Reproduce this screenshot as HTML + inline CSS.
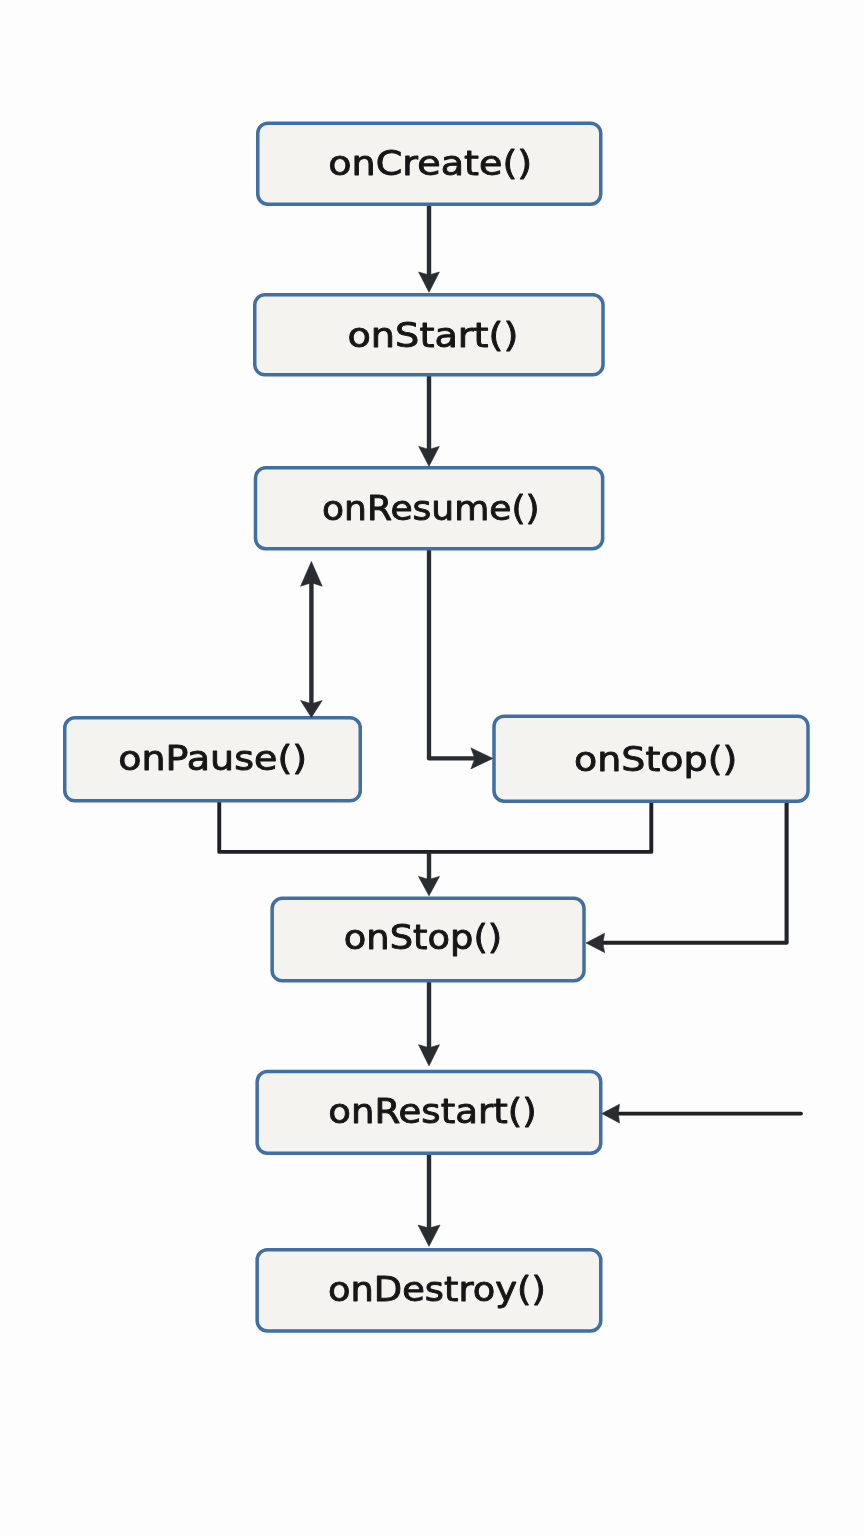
<!DOCTYPE html>
<html lang="en">
<head>
<meta charset="utf-8">
<title>Activity Lifecycle</title>
<style>
html,body{margin:0;padding:0;background:#fdfdfd;}
body{width:864px;height:1536px;overflow:hidden;position:relative;}
svg{position:absolute;left:0;top:0;display:block;will-change:transform;}
.box{fill:#f4f3f0;stroke:#3f6fa3;stroke-width:3.5;}
.ln{fill:none;stroke:#292c30;stroke-width:4.2;stroke-linejoin:round;stroke-linecap:butt;}
.ah{fill:#292c30;stroke:#292c30;stroke-width:0.6;stroke-linejoin:round;}
#labels{opacity:0.999;}
text{font-family:"DejaVu Sans","Liberation Sans",sans-serif;fill:#161616;stroke:#161616;stroke-width:0.9px;stroke-linejoin:round;}
</style>
</head>
<body>
<svg width="864" height="1536" viewBox="0 0 864 1536">
  <rect x="0" y="0" width="864" height="1536" fill="#fdfdfd"/>
  <g id="lines">
    <path class="ln" d="M429 204V278" style="stroke-width:4.4"/>
    <path class="ln" d="M429 375V452" style="stroke-width:4.4"/>
    <path class="ln" d="M311.4 580V706" style="stroke-width:4.4"/>
    <path class="ln" d="M429 549V758.4H478" style="stroke-width:4.3"/>
    <path class="ln" d="M219.25 801V851.9H651.3V801" style="stroke-width:3.9;stroke:#1f2124"/>
    <path class="ln" d="M429 852V882" style="stroke-width:4.4"/>
    <path class="ln" d="M786.6 801V942.8H600" style="stroke-width:4.1;stroke:#222428"/>
    <path class="ln" d="M429 981V1050" style="stroke-width:4.4"/>
    <path class="ln" d="M429 1153V1231" style="stroke-width:4.4"/>
    <path class="ln" d="M801 1113.6H616" style="stroke-width:3.8;stroke:#1f2124;stroke-linecap:round"/>
  </g>
  <g id="boxes">
    <rect class="box" x="257.75" y="123.15" width="343.00" height="81.10" rx="10.2"/>
    <rect class="box" x="254.75" y="294.75" width="348.25" height="80.10" rx="10.2"/>
    <rect class="box" x="255.50" y="467.75" width="347.15" height="80.90" rx="10.2"/>
    <rect class="box" x="64.75" y="717.75" width="295.50" height="83.10" rx="10.2"/>
    <rect class="box" x="494.00" y="716.15" width="314.00" height="85.10" rx="10.2"/>
    <rect class="box" x="272.15" y="898.35" width="311.85" height="82.50" rx="10.2"/>
    <rect class="box" x="257.15" y="1071.50" width="343.60" height="81.75" rx="10.2"/>
    <rect class="box" x="257.15" y="1249.75" width="343.60" height="81.25" rx="10.2"/>
  </g>
  <g id="heads">
    <path class="ah" d="M429.00 292.30 L439.40 272.00 L429.00 275.00 L418.60 272.00 Z"/>
    <path class="ah" d="M429.00 466.30 L439.30 446.40 L429.00 449.40 L418.70 446.40 Z"/>
    <path class="ah" d="M311.40 561.50 L300.60 586.20 L311.40 582.70 L322.20 586.20 Z"/>
    <path class="ah" d="M311.40 717.50 L322.20 700.50 L311.40 703.80 L300.60 700.50 Z"/>
    <path class="ah" d="M492.90 758.40 L470.90 747.90 L474.90 758.40 L470.90 768.90 Z"/>
    <path class="ah" d="M429.00 895.80 L439.50 876.40 L429.00 879.40 L418.50 876.40 Z"/>
    <path class="ah" d="M586.00 942.90 L604.60 952.60 L602.80 942.90 L604.60 933.20 Z"/>
    <path class="ah" d="M429.00 1065.90 L439.50 1044.70 L429.00 1047.70 L418.50 1044.70 Z"/>
    <path class="ah" d="M429.00 1246.30 L440.00 1225.10 L429.00 1228.10 L418.00 1225.10 Z"/>
    <path class="ah" d="M601.90 1113.60 L619.50 1123.00 L618.30 1113.60 L619.50 1104.20 Z"/>
  </g>
  <g id="labels">
    <text transform="translate(328.21 175.00) scale(1.1288 1)" font-size="33.8">onCreate()</text>
    <text transform="translate(347.46 347.00) scale(1.1323 1)" font-size="33.8">onStart()</text>
    <text transform="translate(322.05 520.00) scale(1.0673 1)" font-size="33.8">onResume()</text>
    <text transform="translate(118.21 770.00) scale(1.1253 1)" font-size="33.8">onPause()</text>
    <text transform="translate(573.97 771.00) scale(1.1248 1)" font-size="33.8">onStop()</text>
    <text transform="translate(343.76 949.00) scale(1.0905 1)" font-size="33.8">onStop()</text>
    <text transform="translate(328.25 1123.00) scale(1.0973 1)" font-size="33.8">onRestart()</text>
    <text transform="translate(328.01 1301.00) scale(1.0893 1)" font-size="33.8">onDestroy()</text>
  </g>
</svg>
</body>
</html>
